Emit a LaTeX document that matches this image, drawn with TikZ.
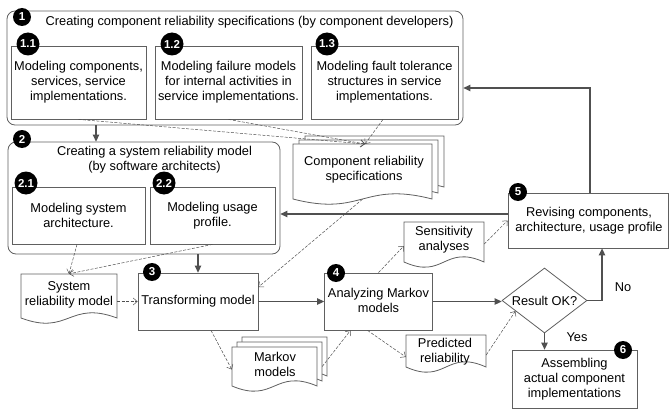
\documentclass[tikz,border=0pt]{standalone}
\usepackage{fontspec}
\setmainfont{Liberation Sans}
\usetikzlibrary{shapes.geometric,arrows.meta,calc}
\definecolor{lineC}{HTML}{606060}
\definecolor{flowC}{HTML}{505050}
\newcommand{\docpath}[4]{(#1,#2) -- (#3,#2) -- (#3,#4) .. controls ({(#1+#3)/2},{#4-18}) and ({(#1+#3)/2},{#4+18}) .. (#1,#4) -- cycle}
\begin{document}
\begin{tikzpicture}[x=1pt,y=-1pt,
  font=\fontsize{12.8}{15}\selectfont,
  grp/.style={draw=lineC,line width=0.8pt,rounded corners=8pt,inner sep=0},
  box/.style={draw=lineC,line width=0.8pt,fill=white,inner sep=0},
  txt/.style={align=center,inner sep=0},
  area/.style={inner sep=0},
  docline/.style={draw=lineC,line width=0.8pt,fill=white},
  num/.style={circle,fill=black,text=white,font=\fontsize{11.5}{11.5}\selectfont\bfseries,inner sep=0,minimum size=18pt},
  numw/.style={num,minimum size=23pt},
  flow/.style={draw=flowC,line width=1.3pt,-{Triangle[length=7pt,width=6.5pt]}},
  dep/.style={draw=flowC,line width=0.5pt,dash pattern=on 3pt off 1.5pt,-{Straight Barb[length=4pt,width=7pt]}},
  lab/.style={inner sep=0}
]
\useasboundingbox (0,0) rectangle (670,412);

% group 1
\node[grp,minimum width=456pt,minimum height=114pt] (g1) at (235,68) {};
\node[txt] (g1t) at (249.5,22) {Creating component reliability specifications (by component developers)};
\node[box,minimum width=135pt,minimum height=73pt] (b11) at (78.5,82.5) {};
\node[txt] (b11t) at (78.5,82) {Modeling components,\\services, service\\implementations.};
\node[box,minimum width=147pt,minimum height=73pt] (b12) at (228.5,82.5) {};
\node[txt] (b12t) at (228.5,82) {Modeling failure models\\for internal activities in\\service implementations.};
\node[box,minimum width=147pt,minimum height=73pt] (b13) at (384.5,82.5) {};
\node[txt] (b13t) at (384.5,82) {Modeling fault tolerance\\structures in service\\implementations.};
\node[num] (n1) at (22,17) {1};
\node[numw] (n11) at (28,44) {1.1};
\node[numw] (n12) at (172,44) {1.2};
\node[numw] (n13) at (327,44) {1.3};

% group 2
\node[grp,minimum width=272pt,minimum height=112pt] (g2) at (144,198) {};
\node[txt] (g2t) at (154.5,160) {Creating a system reliability model\\(by software architects)};
\node[box,minimum width=133pt,minimum height=57pt] (b21) at (78.5,215.5) {};
\node[txt] (b21t) at (78.5,215.5) {Modeling system\\architecture.};
\node[box,minimum width=125pt,minimum height=57pt] (b22) at (212.5,215.5) {};
\node[txt] (b22t) at (212.5,215.5) {Modeling usage\\profile.};
\node[num] (n2) at (22,139) {2};
\node[numw] (n21) at (26,183) {2.1};
\node[numw] (n22) at (164,183) {2.2};

% component reliability specifications (stack)
\draw[docline] \docpath{305}{136}{444}{187};
\draw[docline] \docpath{299}{140}{438}{193};
\draw[docline] \docpath{293}{144}{432}{199};
\node[area,minimum width=139pt,minimum height=55pt] (crs) at (362.5,171.5) {};
\node[txt] (crst) at (364,169.5) {Component reliability\\specifications};

% system reliability model
\draw[docline] \docpath{21}{274}{117}{318};
\node[area,minimum width=96pt,minimum height=44pt] (srm) at (69,296) {};
\node[txt] (srmt) at (69,294.5) {System\\reliability model};

% box 3
\node[box,minimum width=120pt,minimum height=57pt] (t3) at (198,301.5) {};
\node[txt] (t3t) at (198,301) {Transforming model};
\node[num] (n3) at (152,272) {3};

% box 4
\node[box,minimum width=108pt,minimum height=57pt] (a4) at (378.5,301.5) {};
\node[txt] (a4t) at (378.5,300.5) {Analyzing Markov\\models};
\node[num] (n4) at (336,273) {4};

% Markov models (stack)
\draw[docline] \docpath{242}{337}{327}{376};
\draw[docline] \docpath{237}{342}{322}{381};
\draw[docline] \docpath{232}{347}{317}{386};
\node[area,minimum width=85pt,minimum height=39pt] (mm) at (274.5,366.5) {};
\node[txt] (mmt) at (275,364.5) {Markov\\models};

% sensitivity analyses
\draw[docline] \docpath{404}{222}{484}{262};
\node[area,minimum width=80pt,minimum height=40pt] (sa) at (444,242) {};
\node[txt] (sat) at (444,239.5) {Sensitivity\\analyses};

% predicted reliability
\draw[docline] \docpath{406}{335}{486}{367};
\node[area,minimum width=80pt,minimum height=32pt] (pr) at (446,351) {};
\node[txt] (prt) at (445,351.5) {Predicted\\reliability};

% diamond
\node[diamond,draw=lineC,line width=0.8pt,fill=white,aspect=1.3,inner sep=0,minimum width=85pt,minimum height=65pt] (ok) at (544.5,300.5) {Result OK?};

% box 5
\node[box,minimum width=160pt,minimum height=55pt] (r5) at (588,220.5) {};
\node[txt] (r5t) at (589,220.5) {Revising components,\\architecture, usage profile};
\node[num] (n5) at (518,192) {5};

% box 6
\node[box,minimum width=125pt,minimum height=58pt] (b6) at (574.5,379) {};
\node[txt] (b6t) at (574.5,379) {Assembling\\actual component\\implementations};
\node[num] (n6) at (623,350) {6};

% labels
\node[lab] (no) at (623,287) {No};
\node[lab] (yes) at (577,337) {Yes};

% helper coordinates
\coordinate (cx96) at (96,0);
\coordinate (crsin) at (365,144);
\coordinate (r5w) at ([yshift=6.5pt]r5.west);

% solid flows
\draw[flow] (g1.south -| cx96) -- (g2.north -| cx96);
\draw[flow] (t3.north |- g2.south) -- (t3.north);
\draw[flow] (t3.east) -- (a4.west);
\draw[flow] (a4.east) -- (a4.east -| ok.west);
\draw[flow] (ok.east) -| ([xshift=14pt]r5.south);
\draw[flow] (ok.south) -- (ok.south |- b6.north);
\draw[flow] ([xshift=2pt]r5.north) |- ([yshift=-20pt]g1.east);
\draw[flow] (r5w) -- (r5w -| g2.east);

% dependency arrows
\draw[dep] (b11.south) -- (crsin);
\draw[dep] (b12.south) -- (crsin);
\draw[dep] ([xshift=-1.5pt]b13.south) -- (crsin);
\draw[dep] ([xshift=-1.5pt]b21.south) -- (srm.north);
\draw[dep] (b22.south) -- (srm.north);
\draw[dep] (t3.west -| srm.east) -- (t3.west);
\draw[dep] (crs.south) -- ([yshift=14.5pt]t3.east);
\draw[dep] ([xshift=13pt]t3.south) -- ([yshift=-3pt]mm.west);
\draw[dep] ([xshift=5pt]mm.east) -- ([xshift=-28pt]a4.south);
\draw[dep] (a4.north) -- ([yshift=-4pt]sa.west);
\draw[dep] ([yshift=-2pt]sa.east) -- (r5.west);
\draw[dep] ([xshift=-11pt]a4.south) -- ([yshift=-6pt]pr.west);
\draw[dep] ([yshift=-4pt]pr.east) -- (ok.200);
\end{tikzpicture}
\end{document}
